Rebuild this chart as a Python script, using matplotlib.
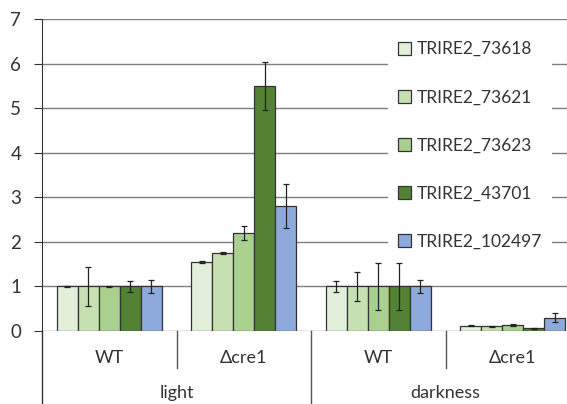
import matplotlib
matplotlib.use("Agg")
import matplotlib.pyplot as plt
import numpy as np

plt.rcParams.update({
    "font.family": ["Lato", "DejaVu Sans"],
    "font.size": 13,
})

# data
groups = ["WT", "\u0394cre1", "WT", "\u0394cre1"]
conditions = ["light", "darkness"]
genes = ["TRIRE2_73618", "TRIRE2_73621", "TRIRE2_73623", "TRIRE2_43701", "TRIRE2_102497"]
values = [
    [1.00, 1.54, 1.00, 0.12],
    [1.00, 1.75, 1.00, 0.11],
    [1.00, 2.20, 1.00, 0.14],
    [1.00, 5.49, 1.00, 0.06],
    [1.00, 2.81, 1.00, 0.30],
]
errors = [
    [0.02, 0.02, 0.13, 0.01],
    [0.43, 0.03, 0.33, 0.01],
    [0.02, 0.15, 0.52, 0.02],
    [0.12, 0.54, 0.52, 0.01],
    [0.14, 0.49, 0.14, 0.10],
]
colors = ["#E2EFDA", "#C6E0B4", "#A9D08E", "#548235", "#8EA9DB"]

fig = plt.figure(figsize=(5.67, 4.04), dpi=100)
ax = fig.add_axes([42 / 567, 73 / 404, 538 / 567, 312 / 404])

x = np.arange(len(groups)) + 0.5
bw = 0.156
for i, (g, v, e, c) in enumerate(zip(genes, values, errors, colors)):
    pos = x + (i - 2) * bw
    ax.bar(pos, v, bw, color=c, edgecolor="#333333", linewidth=0.9,
           label=g, zorder=3)
    ax.errorbar(pos, v, yerr=e, fmt="none", ecolor="#222222",
                elinewidth=0.9, capsize=2.5, capthick=0.9, zorder=4)

ax.set_xlim(0, 4)
ax.set_ylim(0, 7)
ax.set_yticks(range(8))
ax.yaxis.grid(True, color="#7f7f7f", linewidth=1.0, zorder=0)
ax.set_axisbelow(True)
ax.set_xticks([])
for s in ["top", "right", "bottom"]:
    ax.spines[s].set_visible(False)
ax.spines["left"].set_color("#333333")
ax.tick_params(axis="y", length=6, color="#333333", labelsize=13.5,
               pad=9, labelcolor="#333333")

# category axis below the chart
tr = ax.transAxes
ax.plot([0, 0], [0, -0.24], color="#333333", lw=1, transform=tr, clip_on=False)
for k in [1, 3]:
    ax.plot([k / 4, k / 4], [0, -0.118], color="#555555", lw=1,
            transform=tr, clip_on=False)
ax.plot([0.5, 0.5], [0, -0.24], color="#555555", lw=1, transform=tr, clip_on=False)
for xi, g in zip(x, groups):
    ax.text(xi / 4, -0.085, g, transform=tr, ha="center", va="center",
            fontsize=13, color="#333333")
for j, c in enumerate(conditions):
    ax.text(0.25 + 0.5 * j, -0.2, c, transform=tr, ha="center", va="center",
            fontsize=13, color="#333333")

leg = ax.legend(loc="upper left", bbox_to_anchor=(337 / 538, 0.99),
                frameon=True, fancybox=False, edgecolor="none",
                facecolor="white", framealpha=1, fontsize=12.5,
                labelspacing=1.85, handlelength=0.75, handleheight=0.75,
                handletextpad=0.3, borderpad=0.6)
for t in leg.get_texts():
    t.set_color("#333333")

fig.savefig("out.png", dpi=100)
